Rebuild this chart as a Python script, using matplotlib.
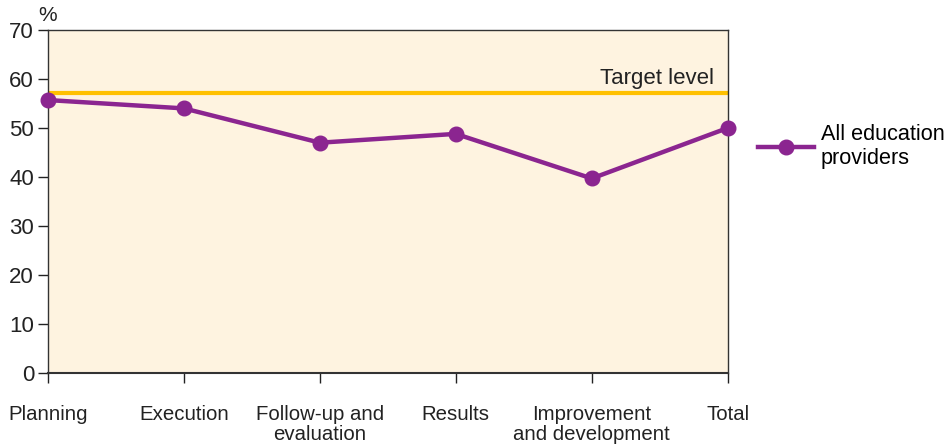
import matplotlib.pyplot as plt

categories = ['Planning', 'Execution', 'Follow-up and\nevaluation', 'Results',
              'Improvement\nand development', 'Total']
values = [55.7, 54.0, 47.0, 48.8, 39.7, 50.0]
target = 57.1

plt.rcParams['font.family'] = ['Liberation Sans', 'DejaVu Sans']

fig = plt.figure(figsize=(9.5, 4.45), dpi=100)
ax = fig.add_axes([0.0505, 0.1618, 0.7155, 0.7708])
ax.set_facecolor('#fef3e0')

x = list(range(len(categories)))
ax.plot(x, values, color='#8b2590', lw=3.2, marker='o', ms=10.5,
        label='All education\nproviders', zorder=3, clip_on=False)
ax.axhline(target, color='#ffc000', lw=3, zorder=2)
ax.text(len(categories) - 1.1, target + 0.9, 'Target level', ha='right', va='bottom',
        fontsize=16, color='#222222')

ax.set_xlim(0, len(categories) - 1)
ax.set_ylim(0, 70)
ax.set_yticks(range(0, 71, 10))
ax.set_xticks(x)
ax.set_xticklabels(categories, linespacing=1.05)
ax.tick_params(axis='x', length=7, pad=16, labelsize=14.7, colors='#222222', width=1)
ax.tick_params(axis='y', length=7, labelsize=16, colors='#222222', width=1, pad=3)
for s in ax.spines.values():
    s.set_color('#333333')
    s.set_linewidth(1)
ax.spines['bottom'].set_linewidth(1.5)

fig.text(0.05, 0.965, '%', ha='center', va='center', fontsize=15, color='#222222')

ax.legend(loc='center left', bbox_to_anchor=(1.025, 0.66), frameon=False,
          fontsize=15.6, handlelength=2.6, handletextpad=0.3, labelspacing=0.12,
          borderaxespad=0.2)

fig.savefig('out.png', dpi=100)
